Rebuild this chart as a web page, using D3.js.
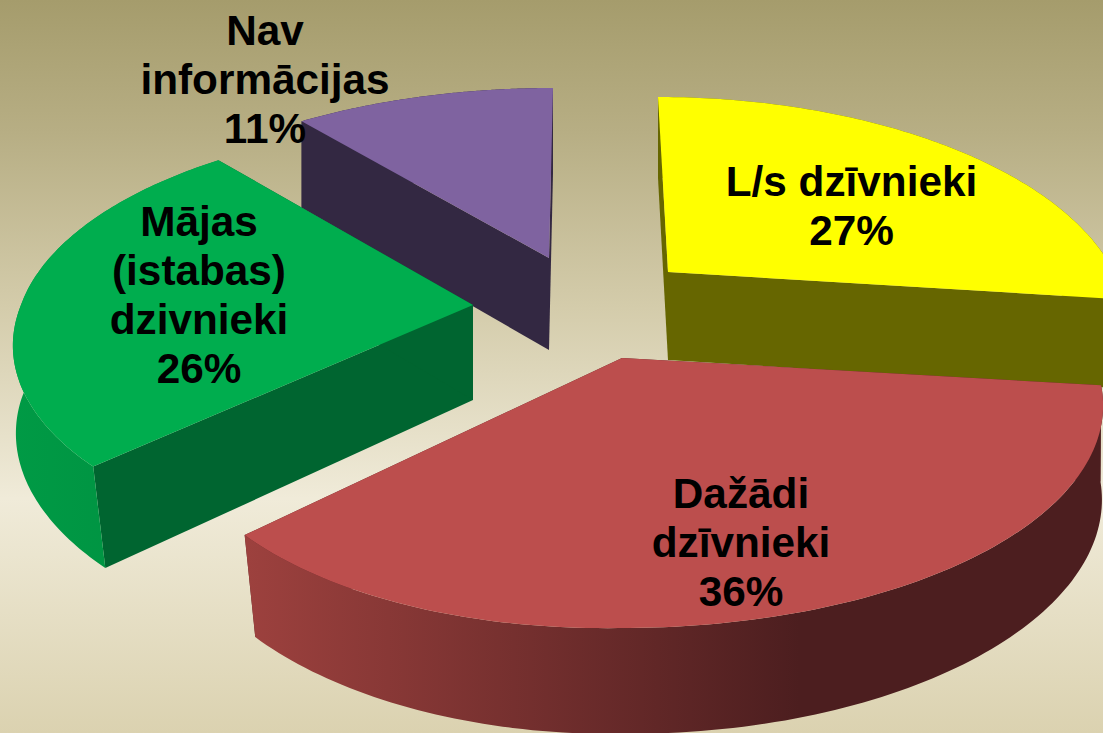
<!DOCTYPE html>
<html><head><meta charset="utf-8">
<script src="https://cdn.jsdelivr.net/npm/d3@7"></script>
<style>html,body{margin:0;padding:0;background:#ddd4b0;overflow:hidden}svg{display:block}</style>
</head><body><div id="chart"></div>
<script>
const categories = ["L/s dzīvnieki", "Dažādi dzīvnieki", "Mājas (istabas) dzivnieki", "Nav informācijas"];
const values = [27, 36, 26, 11];
const labelLines = [["L/s dzīvnieki","27%"],["Dažādi","dzīvnieki","36%"],["Mājas","(istabas)","dzivnieki","26%"],["Nav","informācijas","11%"]];
const topColors = ["#ffff00","#bc4e4d","#00ad4e","#7f63a0"];
const faceColors = ["#666600","#5a2424","#006530","#332842"];
const wallStops = [["#666600","#666600"],["#9d413e","#4c1e1f"],["#009a45","#008f40"],["#332842","#332842"]];

const W=1103,H=733;
// layout: exploded apex of each slice, projection radii and skews, wall depth, label anchors, draw order
const apex=[[668,272],[622,358],[473,305],[549,258]];
const labelPos=[[851.5,196],[741,508],[199,236],[265,45]];
const rxRight=[446,470,452,450], rxLeft=[446,442,452,462];
const ryFront=[270,270,250,270], ryBack=[175,175,182,170];
const backShift=[-10,0,3,4];
const frontShift=[0,0,.065,0];
const leftDrop=[0,.018,0,0];
const depth=[88,95,95,92];
const drawOrder=[3,2,0,1];
const lineGap=49;

const svg=d3.select("#chart").append("svg").attr("width",W).attr("height",H);
const defs=svg.append("defs");
const bg=defs.append("linearGradient").attr("id","bg").attr("x1",0).attr("y1",0).attr("x2",0).attr("y2",1);
[[0,"#a59c6c"],[.18,"#b7ae84"],[.42,"#d4ccab"],[.68,"#f0ebd9"],[1,"#dbd2b0"]].forEach(s=>bg.append("stop").attr("offset",s[0]).attr("stop-color",s[1]));
svg.append("rect").attr("width",W).attr("height",H).attr("fill","url(#bg)");

const arcs=d3.pie().sort(null)(values);
const line=d3.line();

function topPt(i,t){
  const p=(ryFront[i]-ryBack[i])/(ryFront[i]+ryBack[i]), b=ryFront[i]*(1-p);
  const w=1+p*Math.cos(t), s=Math.sin(t);
  const y=-b*Math.cos(t)/w;
  const back=Math.max(0,-y/ryBack[i]);
  const a=s>=0?rxRight[i]:rxLeft[i];
  const dx=a*s/w;
  return [apex[i][0]+dx+backShift[i]*back-frontShift[i]*Math.max(0,y),
          apex[i][1]+y+(Math.cos(t)<0&&s<0?leftDrop[i]*Math.abs(dx):0)];
}
function drop(i,pt){
  const dy=pt[1]-apex[i][1];
  return [pt[0]+(850-pt[0])*.0267*Math.max(0,dy)/270, pt[1]+depth[i]+.04*dy];
}

drawOrder.forEach(i=>{
  const a=arcs[i];
  const n=120;
  const rim=d3.range(n+1).map(k=>topPt(i,a.startAngle+(a.endAngle-a.startAngle)*k/n));
  const lower=rim.map(q=>drop(i,q));
  const c=apex[i], cLow=drop(i,c);
  const g=svg.append("g").attr("class","slice").attr("data-category",categories[i]);
  [rim[0],rim[n]].forEach(q=>{
    g.append("path").attr("d",line([c,q,drop(i,q),cLow])+"Z").attr("fill",faceColors[i]);
  });
  const id="wall"+i;
  const xs=rim.map(q=>q[0]);
  const gr=defs.append("linearGradient").attr("id",id).attr("gradientUnits","userSpaceOnUse")
    .attr("x1",i===1?245:d3.min(xs)).attr("x2",i===1?800:d3.max(xs)).attr("y1",0).attr("y2",0);
  wallStops[i].forEach((col,k)=>gr.append("stop").attr("offset",k).attr("stop-color",col));
  g.append("path").attr("d",line(rim.concat(lower.slice().reverse()))+"Z").attr("fill",`url(#${id})`);
  g.append("path").attr("d",line([c].concat(rim))+"Z").attr("fill",topColors[i]);
});

const txt=svg.append("g").attr("font-family","'Liberation Sans',Arial,sans-serif").attr("font-weight","bold").attr("font-size",42.3).attr("text-anchor","middle").attr("fill","#000");
labelLines.forEach((ls,i)=>ls.forEach((s,k)=>{
  txt.append("text").attr("x",labelPos[i][0]).attr("y",labelPos[i][1]+k*lineGap).text(s);
}));
</script></body></html>
